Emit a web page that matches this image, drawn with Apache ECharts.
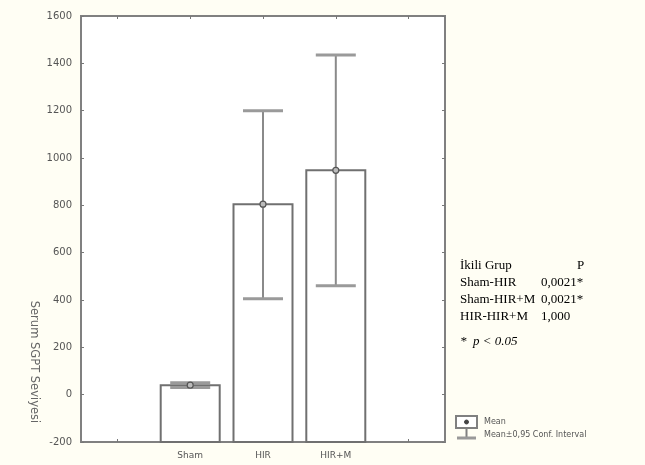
<!DOCTYPE html>
<html>
<head>
<meta charset="utf-8">
<script src="https://cdn.jsdelivr.net/npm/echarts@6/dist/echarts.min.js"></script>
<style>
html,body{margin:0;padding:0;background:#fffef4;}
#chart{width:645px;height:465px;}
</style>
</head>
<body>
<div id="chart"></div>
<script>
var categories = ['', 'Sham', 'HIR', 'HIR+M', ''];
var means = [null, 40, 805, 948, null];
var ciLow = [null, 30, 405, 460, null];
var ciHigh = [null, 50, 1200, 1435, null];
var yTicks = [-200, 0, 200, 400, 600, 800, 1000, 1200, 1400, 1600];
var tableRows = [
  ['İkili Grup', 'P'],
  ['Sham-HIR', '0,0021*'],
  ['Sham-HIR+M', '0,0021*'],
  ['HIR-HIR+M', '1,000']
];

var chart = echarts.init(document.getElementById('chart'));
var axisColor = '#808080';
var barData = [], errData = [];
for (var i = 0; i < categories.length; i++) {
  if (means[i] !== null) {
    barData.push([i, means[i]]);
    errData.push([i, ciLow[i], ciHigh[i], means[i]]);
  }
}
var yMin = yTicks[0], yMax = yTicks[yTicks.length - 1];

var graphics = [];
var rowY = [267, 284, 301, 318];
for (var r = 0; r < tableRows.length; r++) {
  graphics.push({type: 'text', left: 460, top: rowY[r] - 8,
    style: {text: tableRows[r][0], font: '13px "Liberation Serif"', fill: '#000'}});
  graphics.push({type: 'text', left: r === 0 ? 577 : 541, top: rowY[r] - 8,
    style: {text: tableRows[r][1], font: '13px "Liberation Serif"', fill: '#000'}});
}
graphics.push({type: 'text', left: 460, top: 335,
  style: {text: '*  p < 0.05', font: 'italic 13px "Liberation Serif"', fill: '#000'}});
// y axis title
graphics.push({type: 'text', x: 34, y: 362, rotation: -Math.PI / 2,
  style: {text: 'Serum SGPT Seviyesi', font: '11.5px "DejaVu Sans"', fill: '#666', align: 'center', verticalAlign: 'middle'}});
// legend icon
graphics.push({type: 'rect', shape: {x: 456, y: 416, width: 21, height: 12},
  style: {fill: '#fff', stroke: '#808080', lineWidth: 2}});
graphics.push({type: 'circle', shape: {cx: 466.5, cy: 422, r: 2},
  style: {fill: '#444', stroke: '#444'}});
graphics.push({type: 'line', shape: {x1: 466.5, y1: 428, x2: 466.5, y2: 438},
  style: {stroke: '#808080', lineWidth: 2}});
graphics.push({type: 'line', shape: {x1: 457, y1: 438, x2: 476, y2: 438},
  style: {stroke: '#999', lineWidth: 3}});
graphics.push({type: 'text', left: 484, top: 418,
  style: {text: 'Mean', font: '8px "DejaVu Sans"', fill: '#555'}});
graphics.push({type: 'text', left: 484, top: 431,
  style: {text: 'Mean±0,95 Conf. Interval', font: '8px "DejaVu Sans"', fill: '#555'}});

var option = {
  backgroundColor: '#fffef4',
  animation: false,
  grid: {left: 81, right: 200, top: 16, bottom: 23, show: true, backgroundColor: '#ffffff', borderColor: axisColor, borderWidth: 2},
  xAxis: [{
    type: 'category', data: categories, position: 'bottom',
    axisLine: {show: true, onZero: false, lineStyle: {color: axisColor, width: 2}},
    axisTick: {show: true, inside: true, alignWithLabel: true, length: 3, lineStyle: {color: '#777'}},
    axisLabel: {color: '#555', fontSize: 9, fontFamily: 'DejaVu Sans', margin: 9}
  }, {
    type: 'category', data: categories, position: 'top',
    axisLine: {show: true, onZero: false, lineStyle: {color: axisColor, width: 2}},
    axisTick: {show: true, inside: true, alignWithLabel: true, length: 3, lineStyle: {color: '#777'}},
    axisLabel: {show: false}
  }],
  yAxis: [{
    type: 'value', min: yMin, max: yMax, interval: 200, position: 'left',
    splitLine: {show: false},
    axisLine: {show: true, lineStyle: {color: axisColor, width: 2}},
    axisTick: {show: true, inside: true, length: 3, lineStyle: {color: '#777'}},
    axisLabel: {color: '#555', fontSize: 10, fontFamily: 'DejaVu Sans', margin: 9,
      formatter: function (v) { return String(v); }}
  }, {
    type: 'value', min: yMin, max: yMax, interval: 200, position: 'right',
    splitLine: {show: false},
    axisLine: {show: true, lineStyle: {color: axisColor, width: 2}},
    axisTick: {show: true, inside: true, length: 3, lineStyle: {color: '#777'}},
    axisLabel: {show: false}
  }],
  graphic: graphics,
  series: [{
    type: 'custom',
    name: 'bars',
    data: barData,
    renderItem: function (params, api) {
      var idx = api.value(0);
      var top = api.coord([idx, api.value(1)]);
      var base = api.coord([idx, yMin]);
      var w = 59;
      return {type: 'rect', shape: {x: top[0] - w / 2, y: top[1], width: w, height: base[1] - top[1]},
        style: {fill: '#ffffff', stroke: '#707070', lineWidth: 2}};
    }
  }, {
    type: 'custom',
    name: 'ci',
    data: errData,
    z: 5,
    renderItem: function (params, api) {
      var idx = api.value(0);
      var lo = api.coord([idx, api.value(1)]);
      var hi = api.coord([idx, api.value(2)]);
      var mn = api.coord([idx, api.value(3)]);
      var cw = 20;
      return {type: 'group', children: [
        {type: 'line', shape: {x1: lo[0], y1: lo[1], x2: hi[0], y2: hi[1]}, style: {stroke: '#8a8a8a', lineWidth: 2}},
        {type: 'line', shape: {x1: hi[0] - cw, y1: hi[1], x2: hi[0] + cw, y2: hi[1]}, style: {stroke: '#9a9a9a', lineWidth: 3}},
        {type: 'line', shape: {x1: lo[0] - cw, y1: lo[1], x2: lo[0] + cw, y2: lo[1]}, style: {stroke: '#9a9a9a', lineWidth: 3}},
        {type: 'circle', shape: {cx: mn[0], cy: mn[1], r: 3}, style: {fill: '#bbb', stroke: '#555', lineWidth: 1.2}}
      ]};
    }
  }]
};
chart.setOption(option);
</script>
</body>
</html>
